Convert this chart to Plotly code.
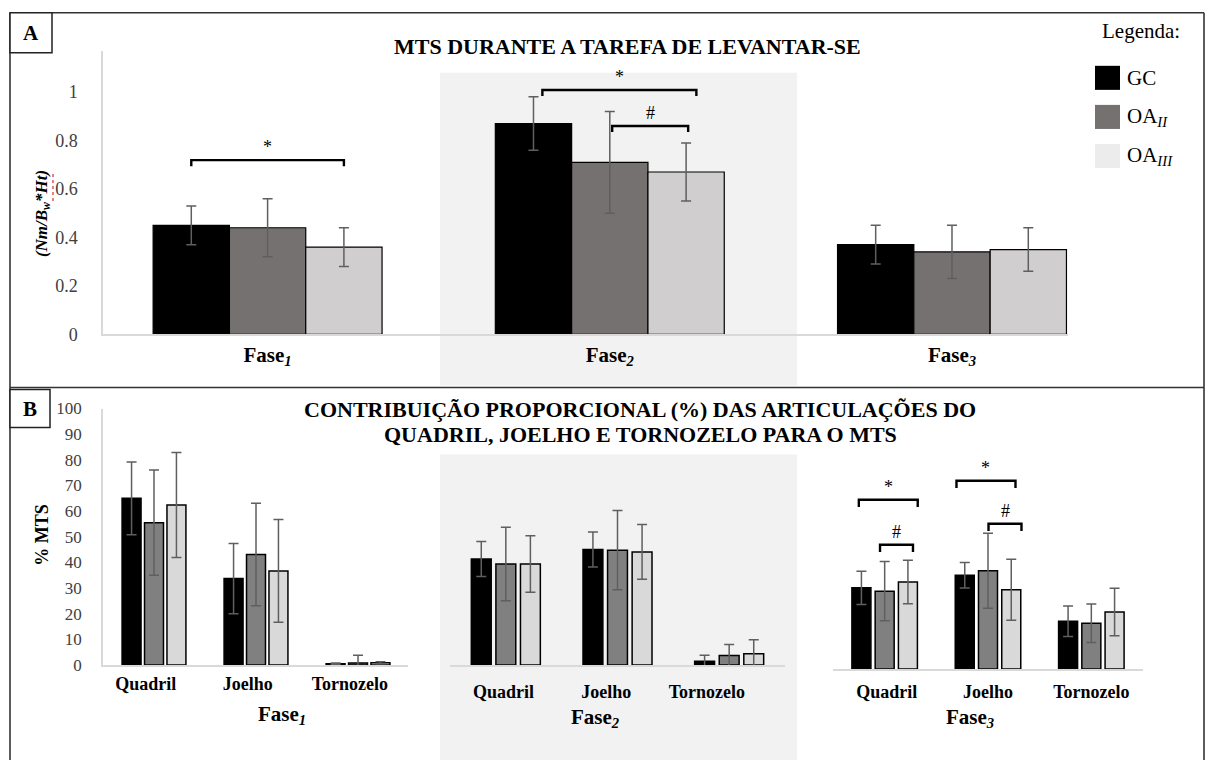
import plotly.graph_objects as go

W, H = 1207, 760

# ---------------- data ----------------
grupos = ["GC", "OA<sub><i>II</i></sub>", "OA<sub><i>III</i></sub>"]
fases = ["Fase<sub><i>1</i></sub>", "Fase<sub><i>2</i></sub>", "Fase<sub><i>3</i></sub>"]
articulacoes = ["Quadril", "Joelho", "Tornozelo"]

# Panel A: MTS (Nm/Bw*Ht), mean and SD per phase
mts_gc = [0.45, 0.87, 0.37]
mts_gc_sd = [0.08, 0.11, 0.08]
mts_oa2 = [0.44, 0.71, 0.34]
mts_oa2_sd = [0.12, 0.21, 0.11]
mts_oa3 = [0.36, 0.67, 0.35]
mts_oa3_sd = [0.08, 0.12, 0.09]

# Panel B: joint contribution (% MTS), mean and SD per joint
f1_gc = [65.0, 33.7, 0.5]
f1_gc_sd = [14.2, 13.7, 0.3]
f1_oa2 = [55.5, 43.1, 0.8]
f1_oa2_sd = [20.5, 20.0, 3.0]
f1_oa3 = [62.4, 36.7, 0.9]
f1_oa3_sd = [20.5, 20.0, 0.4]

f2_gc = [47.2, 51.5, 1.7]
f2_gc_sd = [7.8, 7.8, 2.7]
f2_oa2 = [45.0, 51.2, 4.2]
f2_oa2_sd = [16.4, 17.6, 4.9]
f2_oa3 = [45.0, 50.4, 5.0]
f2_oa3_sd = [12.6, 12.2, 6.3]

f3_gc = [36.2, 41.8, 21.3]
f3_gc_sd = [7.4, 5.7, 6.8]
f3_oa2 = [34.7, 43.8, 20.4]
f3_oa2_sd = [13.2, 16.7, 8.6]
f3_oa3 = [38.8, 35.3, 25.4]
f3_oa3_sd = [9.7, 13.6, 10.6]

# significance brackets: (category index, left offset, right offset, height, symbol)
sig_a = [(0, -0.223, 0.223, 0.719, "*"),
         (1, -0.197, 0.253, 1.008, "*"),
         (1, 0.007, 0.229, 0.860, "#")]
sig_b3 = [(0, -0.25, 0.32, 75.4, "*"),
          (0, -0.045, 0.274, 55.4, "#"),
          (1, -0.305, 0.266, 83.9, "*"),
          (1, 0.005, 0.324, 64.7, "#")]

# ---------------- styling ----------------
SERIF = "Liberation Serif"
cores_a = ["#000000", "#767171", "#d0cece"]
cores_b = ["#000000", "#808080", "#d9d9d9"]
cores_leg = ["#000000", "#767171", "#ececec"]
ERR = "#5f5f5f"
AXIS = "#d9d9d9"

# vertical page layout: the page body keeps its default offset, so
# layout rows are placed in a slightly taller, shifted frame
Y0, YS = 8.3, 0.973


def px(x):
    return x / W


def py(y):
    return 1 - ((y - Y0) / YS) / H


fig = go.Figure()


def add_bars(xaxis, yaxis, means, sds, colors, width, offsets, lw):
    idx = list(range(len(means[0])))
    for m, s, c, off in zip(means, sds, colors, offsets):
        fig.add_trace(go.Bar(
            x=idx, y=m, width=width, offset=off,
            marker=dict(color=c, line=dict(color="#000000", width=lw)),
            error_y=dict(type="data", array=s, color=ERR, thickness=1.5, width=5),
            xaxis=xaxis, yaxis=yaxis, showlegend=False, hoverinfo="skip",
        ))


def offsets_for(width, pitch):
    return [-pitch - width / 2, -width / 2, pitch - width / 2]


# Panel A
add_bars("x", "y", [mts_gc, mts_oa2, mts_oa3], [mts_gc_sd, mts_oa2_sd, mts_oa3_sd],
         cores_a, 0.223, offsets_for(0.223, 0.223), 1.2)
# Panel B, three phases
add_bars("x2", "y2", [f1_gc, f1_oa2, f1_oa3], [f1_gc_sd, f1_oa2_sd, f1_oa3_sd],
         cores_b, 0.186, offsets_for(0.186, 0.22), 1.5)
add_bars("x3", "y3", [f2_gc, f2_oa2, f2_oa3], [f2_gc_sd, f2_oa2_sd, f2_oa3_sd],
         cores_b, 0.178, offsets_for(0.178, 0.22), 1.5)
add_bars("x4", "y4", [f3_gc, f3_oa2, f3_oa3], [f3_gc_sd, f3_oa2_sd, f3_oa3_sd],
         cores_b, 0.184, offsets_for(0.184, 0.225), 1.5)

shapes = []
annotations = []


def note(x, y, text, size, **kw):
    d = dict(x=px(x), y=py(y), xref="paper", yref="paper", text=text, showarrow=False,
             xanchor="center", yanchor="middle",
             font=dict(family=SERIF, size=size, color="#000000"))
    d.update(kw)
    annotations.append(d)


# significance brackets
def add_brackets(xref, yref, items, drop):
    for cat, a, b, yv, sym in items:
        x0, x1 = cat + a, cat + b
        shapes.append(dict(
            type="path", xref=xref, yref=yref, layer="above",
            path=f"M {x0},{yv - drop} L {x0},{yv} L {x1},{yv} L {x1},{yv - drop}",
            line=dict(color="#000000", width=2.4),
        ))
        annotations.append(dict(
            x=(x0 + x1) / 2, y=yv, xref=xref, yref=yref, text=sym,
            showarrow=False, xanchor="center", yanchor="bottom", yshift=1,
            font=dict(family=SERIF, size=18, color="#000000"),
        ))


add_brackets("x", "y", sig_a, 0.025)
add_brackets("x4", "y4", sig_b3, 3.2)

# shaded background of the middle phase
for (x0, y0, x1, y1) in [(440, 72, 797, 384), (440, 453, 797, 775)]:
    shapes.append(dict(type="rect", xref="paper", yref="paper", layer="below",
                       x0=px(x0), x1=px(x1), y0=py(y1), y1=py(y0),
                       fillcolor="#f2f2f2", line=dict(width=0)))

# frame lines
FR = dict(color="#333333", width=1.6)
for (x0, y0, x1, y1) in [(10, 12, 1204, 12), (10, 12, 10, 775), (1204, 12, 1204, 775),
                         (10, 386, 1204, 386)]:
    shapes.append(dict(type="line", xref="paper", yref="paper",
                       x0=px(x0), x1=px(x1), y0=py(y0), y1=py(y1), line=FR))

# panel letter boxes
for (x0, y0, x1, y1, letra) in [(10, 12, 52, 52, "A"), (10, 388, 50, 426, "B")]:
    shapes.append(dict(type="rect", xref="paper", yref="paper",
                       x0=px(x0), x1=px(x1), y0=py(y1), y1=py(y0),
                       line=dict(color="#222222", width=1.5), fillcolor="white"))
    note((x0 + x1) / 2, (y0 + y1) / 2, f"<b>{letra}</b>", 21)

# legend
note(1141, 30, "Legenda:", 21)
for i, (g, c) in enumerate(zip(grupos, cores_leg)):
    yc = 77 + i * 39
    shapes.append(dict(type="rect", xref="paper", yref="paper",
                       x0=px(1095), x1=px(1120), y0=py(yc + 12), y1=py(yc - 12),
                       fillcolor=c, line=dict(width=0)))
    note(1125, yc, g, 21, xanchor="left")

# titles
note(627, 46, "<b>MTS DURANTE A TAREFA DE LEVANTAR-SE</b>", 22)
note(640, 408, "<b>CONTRIBUIÇÃO PROPORCIONAL (%) DAS ARTICULAÇÕES DO</b>", 22)
note(640, 433, "<b>QUADRIL, JOELHO E TORNOZELO PARA O MTS</b>", 22)

# y-axis titles
note(43, 213, "<b><i>(Nm/B<sub>w</sub>*Ht)</i></b>", 17, textangle=-90)
shapes.append(dict(type="line", xref="paper", yref="paper", x0=px(53), x1=px(53),
                   y0=py(200), y1=py(170), line=dict(color="#e8474b", width=1.4, dash="dot")))
note(42, 533, "<b>% MTS</b>", 18, textangle=-90)

# phase titles of panel B
for xc, yc, f in [(282, 713, fases[0]), (595, 716, fases[1]), (970, 716, fases[2])]:
    note(xc, yc, f"<b>{f}</b>", 21)


def xax(x0, x1, rng, labels, tickpos, size, standoff, anchor, lw=1.5):
    return dict(domain=[px(x0), px(x1)], range=rng, tickvals=tickpos, anchor=anchor,
                ticktext=[f"<b>{t}</b>" for t in labels], ticks="", showgrid=False,
                zeroline=False, showline=True, linecolor=AXIS, linewidth=lw,
                tickfont=dict(family=SERIF, size=size, color="#000000"),
                ticklabelstandoff=standoff, fixedrange=True)


fig.update_layout(
    width=W, height=H, margin=dict(l=0, r=0, t=0, b=0),
    paper_bgcolor="white", plot_bgcolor="rgba(0,0,0,0)",
    barmode="overlay", showlegend=False,
    xaxis=xax(103, 1068, [-0.481, 2.339], fases, [0, 1, 2], 21, 0, "y", 2),
    yaxis=dict(domain=[py(333), py(50)], range=[0, 1.17], anchor="x",
               tickvals=[0, 0.2, 0.4, 0.6, 0.8, 1],
               ticktext=["0", "0.2", "0.4", "0.6", "0.8", "1"],
               ticks="", showgrid=False, zeroline=False, showline=True,
               linecolor=AXIS, linewidth=1.5,
               tickfont=dict(family=SERIF, size=18, color="#404040"),
               ticklabelstandoff=20),
    xaxis2=xax(103, 408, [-0.5, 2.49], articulacoes, [-0.08, 0.92, 1.92], 18, 2, "y2"),
    yaxis2=dict(domain=[py(663), py(407)], range=[0, 100], dtick=10, anchor="x2",
                ticks="", showgrid=False, zeroline=False, showline=True,
                linecolor=AXIS, linewidth=1.5,
                tickfont=dict(family=SERIF, size=17, color="#404040"),
                ticklabelstandoff=16),
    xaxis3=xax(450, 785, [-0.5, 2.5], articulacoes, [-0.02, 0.9, 1.8], 18, 10, "y3"),
    yaxis3=dict(domain=[py(663), py(439)], range=[0, 100], visible=False, anchor="x3"),
    xaxis4=xax(833, 1143, [-0.5, 2.5], articulacoes, [0.02, 1, 2], 18, 6, "y4"),
    yaxis4=dict(domain=[py(667), py(443)], range=[0, 100], visible=False, anchor="x4"),
    shapes=shapes, annotations=annotations,
)

fig.write_html("out.html")
